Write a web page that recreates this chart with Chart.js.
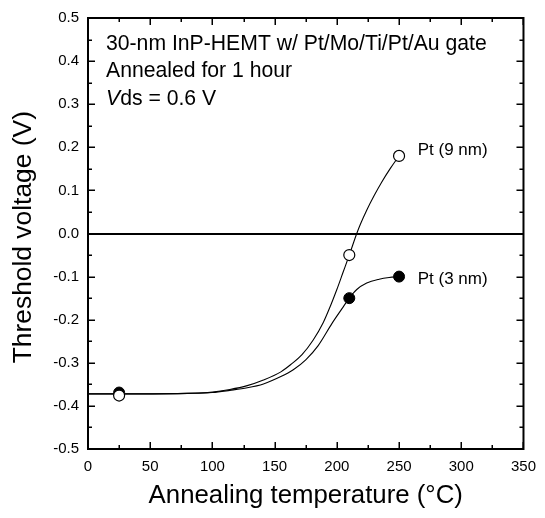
<!DOCTYPE html>
<html>
<head>
<meta charset="utf-8">
<script src="https://cdn.jsdelivr.net/npm/chart.js@4/dist/chart.umd.min.js"></script>
<style>
  body { margin: 0; background: #fff; }
  #wrap { width: 545px; height: 518px; }
</style>
</head>
<body>
<div id="wrap"><canvas id="vthChart" width="545" height="518"></canvas></div>
<script>
// measured points (annealing temperature, threshold voltage)
const pt9Temps = [25, 210, 250];
const pt9Vth = [-0.376, -0.05, 0.18];
const pt3Temps = [25, 210, 250];
const pt3Vth = [-0.369, -0.15, -0.10];

// fitted curves
const fit9Temps = [0, 40, 80, 100, 114, 128, 141, 155, 163, 172, 181, 189, 195, 200, 205, 210, 216, 219, 224, 230, 236, 243, 250];
const fit9Vth = [-0.372, -0.372, -0.371, -0.368, -0.362, -0.353, -0.340, -0.321, -0.304, -0.281, -0.247, -0.207, -0.167, -0.130, -0.090, -0.050, 0.000, 0.022, 0.054, 0.088, 0.119, 0.151, 0.180];
const fit3Temps = [0, 40, 80, 100, 114, 128, 141, 155, 165, 175, 185, 196, 204, 210, 216, 224, 234, 242, 250];
const fit3Vth = [-0.372, -0.372, -0.371, -0.369, -0.364, -0.358, -0.349, -0.332, -0.316, -0.293, -0.260, -0.209, -0.175, -0.150, -0.130, -0.115, -0.106, -0.102, -0.100];

// axes
const xMin = 0, xMax = 350, xStep = 25, xLabelEvery = 50;
const yMin = -0.5, yMax = 0.5, yStep = 0.05;

const annotationLines = ['30-nm InP-HEMT w/ Pt/Mo/Ti/Pt/Au gate', 'Annealed for 1 hour'];
const seriesLabels = ['Pt (9 nm)', 'Pt (3 nm)'];

const FONT = '"Liberation Sans", Arial, Helvetica, sans-serif';

function toXY(xs, ys) {
    return xs.map((x, i) => ({ x: x, y: ys[i] }));
}

function isMajorY(v) {
    return Math.abs(Math.round(v / yStep)) % 2 === 0;
}

// inward ticks on all four sides, plus top/right frame lines
const frameTicks = {
    id: 'frameTicks',
    afterDraw(chart) {
        const ctx = chart.ctx;
        const area = chart.chartArea;
        const xs = chart.scales.x;
        const ys = chart.scales.y;
        ctx.save();
        ctx.strokeStyle = '#000';
        ctx.lineWidth = 2;
        ctx.beginPath();
        ctx.moveTo(area.left - 1, area.top);
        ctx.lineTo(area.right, area.top);
        ctx.lineTo(area.right, area.bottom + 1);
        ctx.stroke();

        ctx.lineWidth = 1.5;
        ctx.beginPath();
        xs.ticks.forEach(t => {
            const px = Math.round(xs.getPixelForValue(t.value)) + 0.25;
            const len = t.value % xLabelEvery === 0 ? 7 : 4;
            ctx.moveTo(px, area.bottom);
            ctx.lineTo(px, area.bottom - len);
            ctx.moveTo(px, area.top);
            ctx.lineTo(px, area.top + len);
        });
        ys.ticks.forEach(t => {
            const py = Math.round(ys.getPixelForValue(t.value)) + 0.25;
            const len = isMajorY(t.value) ? 7 : 4;
            ctx.moveTo(area.left, py);
            ctx.lineTo(area.left + len, py);
            ctx.moveTo(area.right, py);
            ctx.lineTo(area.right - len, py);
        });
        ctx.stroke();
        ctx.restore();
    }
};

// text inside the plot
const plotText = {
    id: 'plotText',
    afterDraw(chart) {
        const ctx = chart.ctx;
        const area = chart.chartArea;
        const xs = chart.scales.x;
        const ys = chart.scales.y;
        ctx.save();
        ctx.fillStyle = '#000';
        ctx.textBaseline = 'middle';
        ctx.textAlign = 'left';

        const left = area.left + 18;
        let y = area.top + 26;
        ctx.font = '21.2px ' + FONT;
        annotationLines.forEach(line => {
            ctx.fillText(line, left, y);
            y += 27.5;
        });
        ctx.font = 'italic 21.2px ' + FONT;
        ctx.fillText('V', left, y);
        const vw = ctx.measureText('V').width;
        ctx.font = '21.2px ' + FONT;
        ctx.fillText('ds = 0.6 V', left + vw, y);

        ctx.font = '17px ' + FONT;
        ctx.fillText(seriesLabels[0], xs.getPixelForValue(265), ys.getPixelForValue(0.192));
        ctx.fillText(seriesLabels[1], xs.getPixelForValue(265), ys.getPixelForValue(-0.106));
        ctx.restore();
    }
};

function initVthChart() {
    const ctx = document.getElementById('vthChart').getContext('2d');
    new Chart(ctx, {
        type: 'line',
        data: {
            datasets: [{
                label: 'Pt (9 nm)',
                data: toXY(pt9Temps, pt9Vth),
                showLine: false,
                pointRadius: 5.5,
                pointBackgroundColor: '#fff',
                pointBorderColor: '#000',
                pointBorderWidth: 1.2,
                order: 0
            }, {
                label: 'Pt (3 nm)',
                data: toXY(pt3Temps, pt3Vth),
                showLine: false,
                pointRadius: 5.5,
                pointBackgroundColor: '#000',
                pointBorderColor: '#000',
                pointBorderWidth: 1,
                order: 1
            }, {
                label: 'fit 9 nm',
                data: toXY(fit9Temps, fit9Vth),
                borderColor: '#000',
                borderWidth: 1.1,
                pointRadius: 0,
                cubicInterpolationMode: 'monotone',
                fill: false,
                order: 2
            }, {
                label: 'fit 3 nm',
                data: toXY(fit3Temps, fit3Vth),
                borderColor: '#000',
                borderWidth: 1.1,
                pointRadius: 0,
                cubicInterpolationMode: 'monotone',
                fill: false,
                order: 2
            }]
        },
        options: {
            responsive: false,
            animation: false,
            layout: { padding: { top: 14, right: 21, left: 0, bottom: 0 } },
            plugins: {
                legend: { display: false },
                tooltip: { enabled: false }
            },
            scales: {
                x: {
                    type: 'linear',
                    min: xMin,
                    max: xMax,
                    afterFit: scale => { scale.height = 69; },
                    border: { display: true, color: '#000', width: 2 },
                    grid: { display: false, drawTicks: false },
                    ticks: {
                        stepSize: xStep,
                        autoSkip: false,
                        maxRotation: 0,
                        padding: 9,
                        color: '#000',
                        font: { family: FONT, size: 15 },
                        callback: v => (v % xLabelEvery === 0 ? String(v) : '')
                    },
                    title: {
                        display: true,
                        text: 'Annealing temperature (°C)',
                        color: '#000',
                        font: { family: FONT, size: 25.8 },
                        padding: { top: 0, bottom: 7 }
                    }
                },
                y: {
                    type: 'linear',
                    min: yMin,
                    max: yMax,
                    afterFit: scale => { scale.width = 88; },
                    border: { display: true, color: '#000', width: 2 },
                    grid: {
                        drawTicks: false,
                        color: c => (c.tick && Math.abs(c.tick.value) < 1e-9 ? '#000' : 'rgba(0,0,0,0)'),
                        lineWidth: 2
                    },
                    ticks: {
                        stepSize: yStep,
                        autoSkip: false,
                        padding: 9,
                        color: '#000',
                        font: { family: FONT, size: 15 },
                        callback: v => (isMajorY(v) ? (Math.abs(v) < 1e-9 ? '0.0' : v.toFixed(1)) : '')
                    },
                    title: {
                        display: true,
                        text: 'Threshold voltage (V) ',
                        color: '#000',
                        font: { family: FONT, size: 26.4 },
                        padding: { top: 8, bottom: 0 }
                    }
                }
            }
        },
        plugins: [frameTicks, plotText]
    });
}

document.addEventListener('DOMContentLoaded', function() {
    initVthChart();
});
</script>
</body>
</html>
